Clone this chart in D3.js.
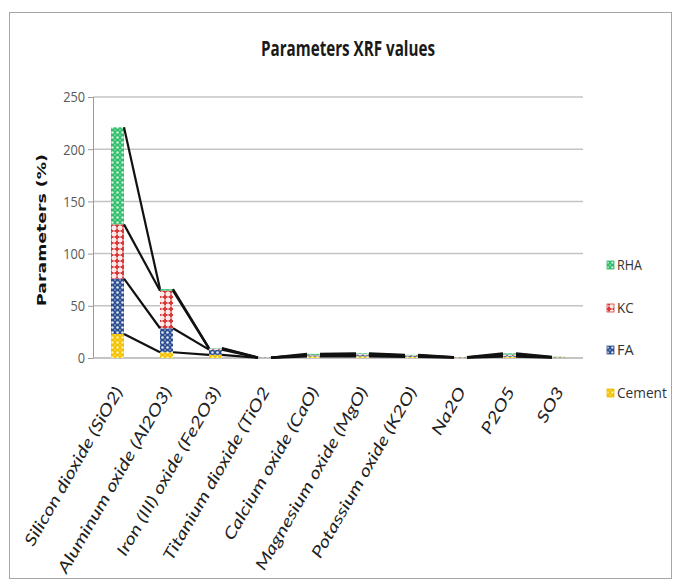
<!DOCTYPE html>
<html><head><meta charset="utf-8">
<script src="https://cdn.jsdelivr.net/npm/d3@7"></script>
<style>body{margin:0;background:#fff}svg{display:block}</style>
</head><body>
<svg id="c" width="674" height="579"></svg>
<script>
const categories = ["Silicon dioxide (SiO2)","Aluminum oxide (Al2O3)","Iron (III) oxide (Fe2O3)","Titanium dioxide (TiO2","Calcium oxide (CaO)","Magnesium oxide (MgO)","Potassium oxide (K2O)","Na2O","P2O5","SO3"];
const seriesNames = ["Cement","FA","KC","RHA"];
const cementValues = [23, 5.5, 3, 0.1, 1.5, 1.5, 1, 0.3, 1.2, 0.4];
const faValues     = [53, 23, 5, 0.2, 1, 1.2, 0.8, 0.2, 1, 0.2];
const kcValues     = [52, 36, 1, 0.1, 0.5, 1, 0.7, 0.2, 1, 0.2];
const rhaValues    = [93, 1.5, 0.5, 0.1, 1, 0.8, 0.5, 0.1, 1.3, 0.4];
const yTicks = [0,50,100,150,200,250];

const svg = d3.select("#c");
svg.append("rect").attr("x",9.5).attr("y",12.5).attr("width",662).attr("height",566)
  .attr("fill","#fff").attr("stroke","#a6a6a6").attr("stroke-width",1);

const x = d3.scaleBand().domain(categories).range([93,583]).paddingInner(0.735).paddingOuter(0.3675);
const y = d3.scaleLinear().domain([0,250]).range([358,97]);

// patterns
const defs = svg.append("defs");
function dotPattern(id,bg,dot){
  const p=defs.append("pattern").attr("id",id).attr("patternUnits","userSpaceOnUse").attr("width",5).attr("height",5);
  p.append("rect").attr("width",5).attr("height",5).attr("fill",bg);
  p.append("circle").attr("cx",2.5).attr("cy",2.5).attr("r",1.3).attr("fill",dot);
  [[0,0],[5,5],[0,5],[5,0]].forEach(([a,b])=>p.append("circle").attr("cx",a).attr("cy",b).attr("r",0.7).attr("fill",dot));
}
dotPattern("pCement","#f2c200","#fff3a8");
dotPattern("pFA","#2e4f8f","#dfe8f5");
dotPattern("pRHA","#33bd6c","#c8f3d8");
{
  const p=defs.append("pattern").attr("id","pKC").attr("patternUnits","userSpaceOnUse").attr("width",6).attr("height",6);
  p.append("rect").attr("width",6).attr("height",6).attr("fill","#fbeaea");
  p.append("rect").attr("x",2).attr("y",0.5).attr("width",2).attr("height",5).attr("fill","#d63a3a");
  p.append("rect").attr("x",0.5).attr("y",2).attr("width",5).attr("height",2).attr("fill","#d63a3a");
}
const fills = {Cement:"url(#pCement)",FA:"url(#pFA)",KC:"url(#pKC)",RHA:"url(#pRHA)"};
const legendSwatch = {Cement:"#e8b800",FA:"#2e4f8f",KC:"#d63a3a",RHA:"#2fb565"};

// gridlines
svg.append("g").selectAll("line").data(yTicks.filter(d=>d>0)).join("line")
  .attr("x1",93).attr("x2",583).attr("y1",d=>y(d)).attr("y2",d=>y(d))
  .attr("stroke","#c4c4c4").attr("stroke-width",1.5);

// axis
const yAxis = d3.axisLeft(y).tickValues(yTicks).tickSize(5).tickPadding(6);
const gy = svg.append("g").attr("transform","translate(93,0)").call(yAxis);
gy.select(".domain").attr("stroke","#9a9a9a");
gy.selectAll(".tick line").attr("stroke","#9a9a9a");
gy.selectAll("text").attr("font-family","Open Sans, sans-serif").attr("font-size",15).attr("fill","#595959")
  .attr("transform","scale(0.85,1)").attr("x",-8/0.85);
svg.append("line").attr("x1",93).attr("x2",583).attr("y1",y(0)).attr("y2",y(0)).attr("stroke","#b0b0b0").attr("stroke-width",1.5);

// stack
const rows = categories.map((c,i)=>({cat:c,Cement:cementValues[i],FA:faValues[i],KC:kcValues[i],RHA:rhaValues[i]}));
const stacked = d3.stack().keys(seriesNames)(rows);

svg.append("g").selectAll("g").data(stacked).join("g")
  .attr("fill",d=>fills[d.key])
  .selectAll("rect").data(d=>d).join("rect")
  .attr("x",d=>x(d.data.cat)).attr("width",x.bandwidth())
  .attr("y",d=>y(d[1])).attr("height",d=>Math.max(0,y(d[0])-y(d[1])));

// series lines
const lg = svg.append("g").attr("stroke","#111").attr("stroke-width",2.2).attr("fill","none");
stacked.forEach(s=>{
  for(let i=0;i<s.length-1;i++){
    lg.append("line")
      .attr("x1",x(s[i].data.cat)+x.bandwidth()).attr("y1",y(s[i][1]))
      .attr("x2",x(s[i+1].data.cat)).attr("y2",y(s[i+1][1]));
  }
});

// title
svg.append("text").attr("x",348).attr("y",56).attr("text-anchor","middle")
  .attr("font-family","Open Sans, sans-serif").attr("font-weight",700).attr("font-size",22)
  .attr("fill","#1a1a1a").attr("textLength",174).attr("lengthAdjust","spacingAndGlyphs")
  .text("Parameters XRF values");

// y title
svg.append("text").attr("transform","translate(46,230) rotate(-90)").attr("text-anchor","middle")
  .attr("font-family","DejaVu Sans, sans-serif").attr("font-weight","bold").attr("font-size",13)
  .attr("fill","#111").attr("textLength",152).attr("lengthAdjust","spacingAndGlyphs")
  .text("Parameters (%)");

// x labels
svg.append("g").selectAll("text").data(categories).join("text")
  .attr("transform",d=>`translate(${x(d)+x.bandwidth()/2+6},${391}) rotate(-60) scale(1.3,1)`)
  .attr("text-anchor","end")
  .attr("font-family","Lato, sans-serif").attr("font-style","italic").attr("font-size",16)
  .attr("fill","#222").text(d=>d);

// legend
const legendOrder = ["RHA","KC","FA","Cement"];
const legendY = {RHA:265,KC:308,FA:350,Cement:393};
const lgd = svg.append("g");
legendOrder.forEach(k=>{
  lgd.append("rect").attr("x",607).attr("y",legendY[k]-4).attr("width",7).attr("height",8).attr("fill",fills[k]).attr("stroke",legendSwatch[k]).attr("stroke-width",0.8);
  lgd.append("text").attr("x",617).attr("y",legendY[k]+5)
    .attr("font-family","Open Sans, sans-serif").attr("font-size",15).attr("fill","#333")
    .attr("textLength",k.length*8.3).attr("lengthAdjust","spacingAndGlyphs").text(k);
});
</script>
</body></html>
